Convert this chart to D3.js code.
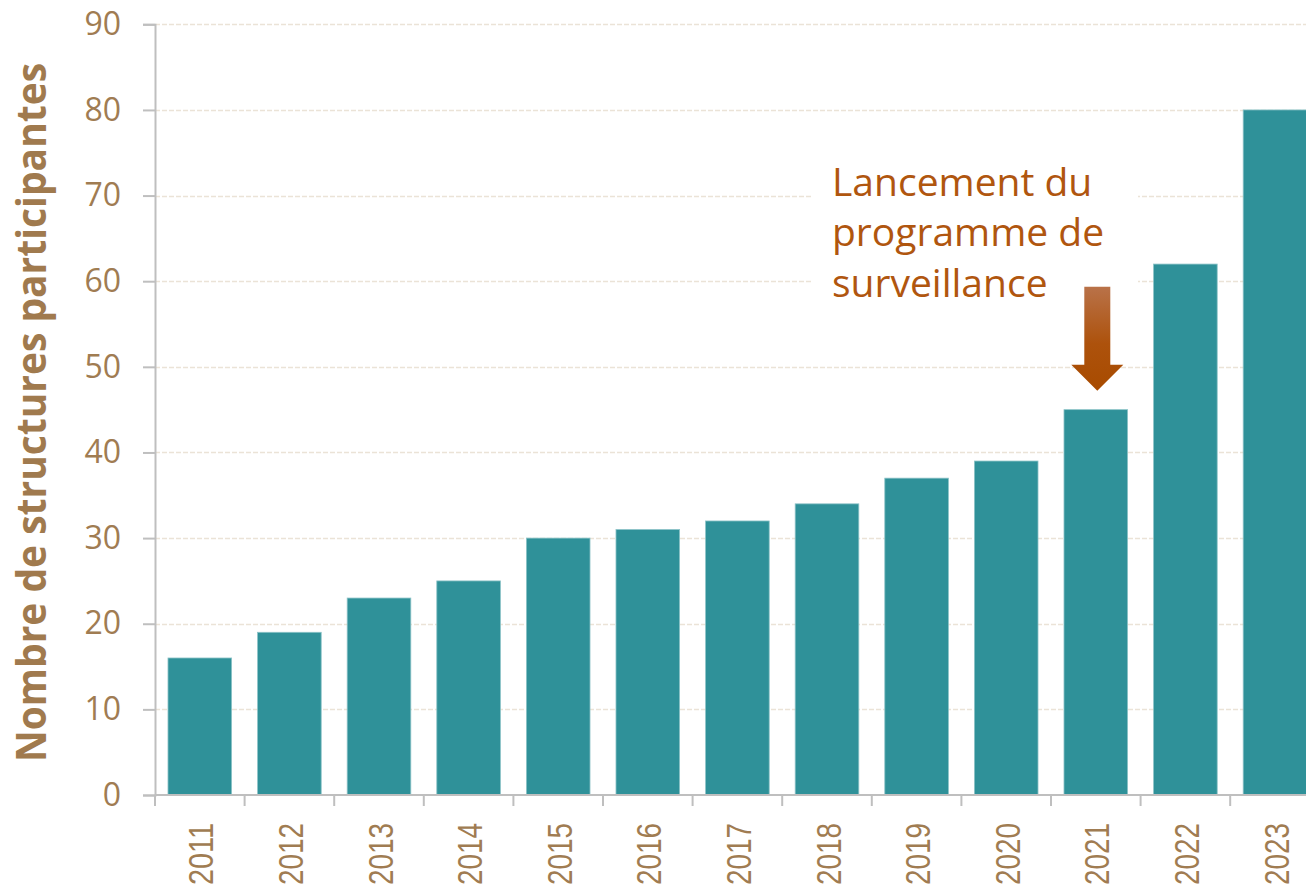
<!doctype html>
<html lang="fr">
<head>
<meta charset="UTF-8">
<title>Nombre de structures participantes</title>
<script src="https://d3js.org/d3.v7.min.js"></script>
<style>
    body { margin: 0; background: #fff; }
    svg { display: block; }
</style>
</head>
<body>
<div id="chart"></div>
<script>
    // data
    const years = ["2011", "2012", "2013", "2014", "2015", "2016", "2017",
                   "2018", "2019", "2020", "2021", "2022", "2023"];
    const structures = [16, 19, 23, 25, 30, 31, 32, 34, 37, 39, 45, 62, 80];
    const yTicks = [0, 10, 20, 30, 40, 50, 60, 70, 80, 90];
    const annotationLines = ["Lancement du", "programme de", "surveillance"];
    const annotationYear = "2021";

    const width = 1306, height = 891;
    const tan = "#a07c52";

    let svg = d3.select("#chart").append("svg")
        .attr("width", width)
        .attr("height", height);

    let x = d3.scaleBand()
        .domain(years)
        .range([155, 1319.8])
        .paddingInner(0.29)
        .paddingOuter(0.145);

    let y = d3.scaleLinear()
        .domain([0, 90])
        .range([795, 24.3]);

    // gridlines
    svg.append("g")
        .selectAll("line")
        .data(yTicks.filter(d => d > 0))
        .enter()
        .append("line")
        .attr("x1", 155)
        .attr("x2", width)
        .attr("y1", d => Math.round(y(d)) + 0.5)
        .attr("y2", d => Math.round(y(d)) + 0.5)
        .attr("stroke", "#ebe3d7")
        .attr("stroke-width", 1.3)
        .attr("stroke-dasharray", "5,2");

    // bars
    svg.append("g")
        .selectAll("rect")
        .data(structures)
        .enter()
        .append("rect")
        .attr("x", (d, i) => x(years[i]))
        .attr("y", d => y(d))
        .attr("width", x.bandwidth())
        .attr("height", d => y(0) - y(d))
        .attr("fill", "#2f9199")
        .attr("stroke", "#8cc3c7")
        .attr("stroke-width", 0.8);

    // y axis
    let yAxis = svg.append("g")
        .attr("transform", "translate(155,0)")
        .call(d3.axisLeft(y).tickValues(yTicks).tickSize(12).tickPadding(22));
    yAxis.select(".domain").attr("stroke", "#bfbfbf").attr("stroke-width", 2);
    yAxis.selectAll(".tick line").attr("stroke", "#bfbfbf").attr("stroke-width", 2);
    yAxis.selectAll(".tick text")
        .attr("fill", tan)
        .attr("font-family", "'Open Sans', sans-serif")
        .attr("font-size", 32);

    // x axis: ticks on band boundaries
    let xAxis = svg.append("g");
    xAxis.append("line")
        .attr("x1", 155).attr("x2", width)
        .attr("y1", y(0)).attr("y2", y(0))
        .attr("stroke", "#bfbfbf").attr("stroke-width", 2);
    xAxis.selectAll(".xtick")
        .data(years)
        .enter()
        .append("line")
        .attr("class", "xtick")
        .attr("x1", d => x(d) - x.step() * x.paddingInner() / 2)
        .attr("x2", d => x(d) - x.step() * x.paddingInner() / 2)
        .attr("y1", y(0))
        .attr("y2", y(0) + 11)
        .attr("stroke", "#bfbfbf").attr("stroke-width", 2);
    xAxis.selectAll(".xlabel")
        .data(years)
        .enter()
        .append("text")
        .attr("class", "xlabel")
        .attr("transform", d => "translate(" + (x(d) + x.bandwidth() / 2 + 1) + ",823) rotate(-90)")
        .attr("text-anchor", "end")
        .attr("dy", "0.36em")
        .attr("fill", tan)
        .attr("font-family", "'Liberation Sans', Arial, sans-serif")
        .attr("font-size", 35)
        .attr("textLength", 62)
        .attr("lengthAdjust", "spacingAndGlyphs")
        .text(d => d);

    // y title
    svg.append("text")
        .attr("transform", "translate(46,412.5) rotate(-90)")
        .attr("text-anchor", "middle")
        .attr("fill", "#a07a4e")
        .attr("font-family", "'Open Sans', sans-serif")
        .attr("font-weight", "bold")
        .attr("font-size", 41)
        .attr("textLength", 699)
        .attr("lengthAdjust", "spacingAndGlyphs")
        .text("Nombre de structures participantes");

    // annotation box + text
    svg.append("rect")
        .attr("x", 812).attr("y", 150)
        .attr("width", 326).attr("height", 160)
        .attr("fill", "#fff");

    svg.append("g")
        .selectAll("text")
        .data(annotationLines)
        .enter()
        .append("text")
        .attr("x", 832)
        .attr("y", (d, i) => 196 + i * 50.3)
        .attr("fill", "#b0560f")
        .attr("font-family", "'Open Sans', sans-serif")
        .attr("font-size", 39)
        .text(d => d);

    // arrow pointing at the 2021 bar
    let defs = svg.append("defs");
    let grad = defs.append("linearGradient")
        .attr("id", "arrowGrad")
        .attr("x1", 0).attr("y1", 0).attr("x2", 0).attr("y2", 1);
    grad.append("stop").attr("offset", "0%").attr("stop-color", "#b97249");
    grad.append("stop").attr("offset", "55%").attr("stop-color", "#ad520c");
    grad.append("stop").attr("offset", "100%").attr("stop-color", "#a84b00");

    let ax = x(annotationYear) + x.bandwidth() / 2 + 1.5;
    let tip = y(structures[years.indexOf(annotationYear)]) - 19;
    svg.append("path")
        .attr("d", "M" + (ax - 13) + "," + (tip - 104) +
            " L" + (ax + 13) + "," + (tip - 104) +
            " L" + (ax + 13) + "," + (tip - 26) +
            " L" + (ax + 26) + "," + (tip - 26) +
            " L" + ax + "," + tip +
            " L" + (ax - 26) + "," + (tip - 26) +
            " L" + (ax - 13) + "," + (tip - 26) + " Z")
        .attr("fill", "url(#arrowGrad)");
</script>
</body>
</html>
